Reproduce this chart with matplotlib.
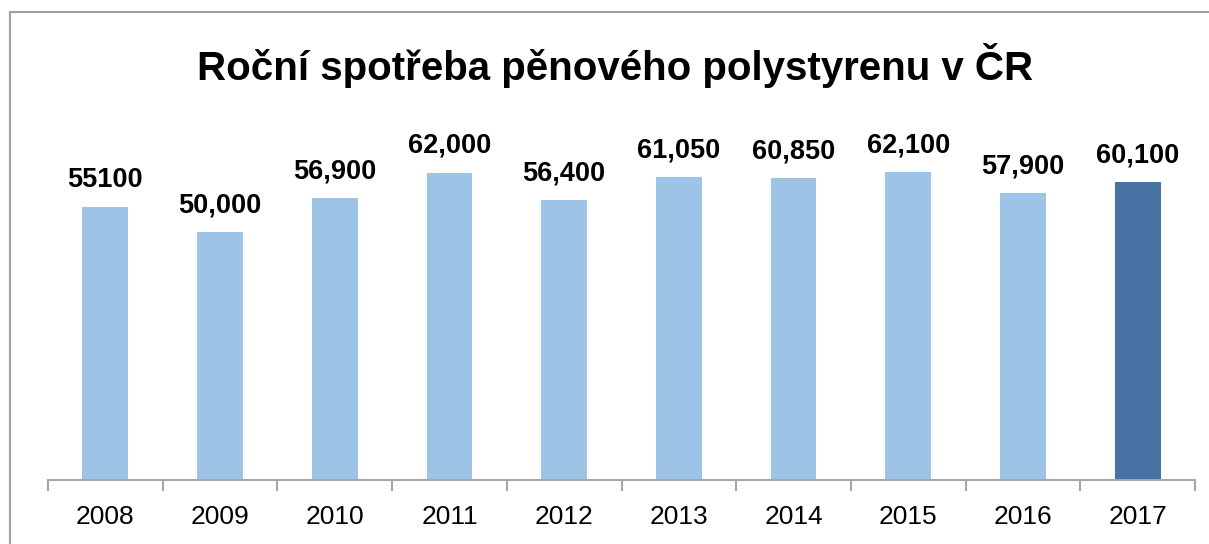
import matplotlib
matplotlib.use("Agg")
import matplotlib.pyplot as plt
from matplotlib.patches import Rectangle
import numpy as np

years = ["2008", "2009", "2010", "2011", "2012", "2013", "2014", "2015", "2016", "2017"]
values = [55100, 50000, 56900, 62000, 56400, 61050, 60850, 62100, 57900, 60100]
labels = ["55100", "50,000", "56,900", "62,000", "56,400", "61,050", "60,850", "62,100", "57,900", "60,100"]

plt.rcParams['font.family'] = ['Liberation Sans', 'DejaVu Sans']

fig = plt.figure(figsize=(12.09, 5.44), dpi=100)
ax = fig.add_axes([48 / 1209, 1 - 480 / 544, (1195 - 48) / 1209, (480 - 133) / 544])

x = np.arange(len(years))
colors = ['#9DC3E6'] * (len(years) - 1) + ['#4673A3']
bars = ax.bar(x, values, width=0.4, color=colors, zorder=2)

for xi, v, lab in zip(x, values, labels):
    ax.annotate(lab, (xi, v), xytext=(0, 10), textcoords='offset points',
                ha='center', va='bottom', fontsize=19.5, fontweight='bold')

ax.set_xlim(-0.5, len(years) - 0.5)
ax.set_ylim(0, 70000)
ax.set_yticks([])
for s in ['top', 'right', 'left']:
    ax.spines[s].set_visible(False)
ax.spines['bottom'].set_color('#A6A6A6')
ax.spines['bottom'].set_linewidth(1.5)

# labels in the middle, tick marks between categories
ax.set_xticks(x)
ax.set_xticklabels(years, fontsize=19)
ax.tick_params(axis='x', which='major', length=0, pad=18)
ax.set_xticks(np.arange(-0.5, len(years)), minor=True)
ax.tick_params(axis='x', which='minor', length=8, width=1.5, color='#A6A6A6', direction='out')

fig.text(615 / 1209, 1 - 65 / 544, "Roční spotřeba pěnového polystyrenu v ČR",
         ha='center', va='center', fontsize=29, fontweight='bold')

# chart frame (only left and top edges visible in the crop)
fig.patches.append(Rectangle((9.5 / 1209, -0.1), 1.2, 1.1 - 12 / 544,
                             transform=fig.transFigure, fill=False,
                             edgecolor='#A0A0A0', linewidth=1.5))

fig.savefig("out.png", dpi=100)
